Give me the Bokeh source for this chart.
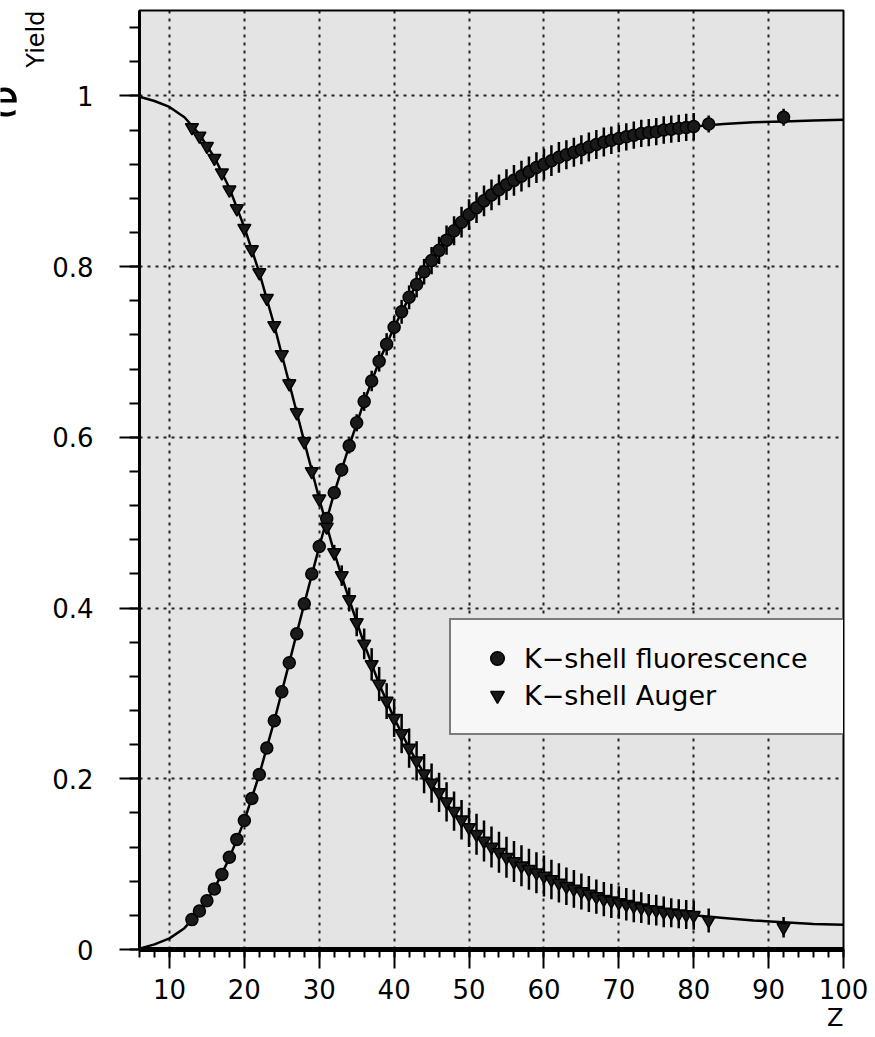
import math
from bokeh.plotting import figure
from bokeh.layouts import row
from bokeh.models import (ColumnDataSource, Range1d, SingleIntervalTicker,
                          CustomJSTickFormatter, Legend, LegendItem, Label, Title)
from bokeh.embed import file_html
from bokeh.resources import INLINE

# ---------------- data ----------------
Z = [13, 14, 15, 16, 17, 18, 19, 20, 21, 22,
     23, 24, 25, 26, 27, 28, 29, 30, 31, 32,
     33, 34, 35, 36, 37, 38, 39, 40,
     41, 42, 43, 44, 45, 46, 47, 48, 49, 50,
     51, 52, 53, 54, 55, 56, 57, 58, 59, 60,
     61, 62, 63, 64, 65, 66, 67, 68, 69, 70,
     71, 72, 73, 74, 75, 76, 77, 78, 79, 80,
     82, 92]

fluorescence = [0.035, 0.045, 0.057, 0.071, 0.088, 0.108, 0.129, 0.151, 0.177, 0.205,
                0.236, 0.268, 0.302, 0.336, 0.370, 0.405, 0.440, 0.472, 0.505, 0.535,
                0.562, 0.590, 0.617, 0.642, 0.666, 0.689, 0.709, 0.729,
                0.747, 0.764, 0.779, 0.794, 0.807, 0.819, 0.831, 0.842, 0.852, 0.861,
                0.869, 0.877, 0.884, 0.890, 0.896, 0.901, 0.906, 0.911, 0.916, 0.920,
                0.924, 0.928, 0.931, 0.934, 0.937, 0.940, 0.943, 0.946, 0.948, 0.950,
                0.952, 0.954, 0.956, 0.957, 0.958, 0.960, 0.961, 0.962, 0.963, 0.964,
                0.967, 0.975]

fluorescence_err = [0.004, 0.004, 0.004, 0.004, 0.004, 0.004, 0.004, 0.004, 0.004, 0.004,
                    0.005, 0.005, 0.005, 0.005, 0.005, 0.005, 0.005, 0.005, 0.005, 0.005,
                    0.008, 0.009, 0.010, 0.011, 0.012, 0.012, 0.013, 0.013,
                    0.014, 0.014, 0.015, 0.015, 0.016, 0.016, 0.017, 0.017, 0.018, 0.018,
                    0.018, 0.018, 0.018, 0.018, 0.018, 0.018, 0.018, 0.018, 0.018, 0.018,
                    0.018, 0.018, 0.017, 0.017, 0.017, 0.017, 0.017, 0.017, 0.016, 0.016,
                    0.016, 0.016, 0.016, 0.016, 0.016, 0.016, 0.016, 0.016, 0.016, 0.016,
                    0.010, 0.010]

auger = [0.963, 0.953, 0.941, 0.927, 0.910, 0.890, 0.868, 0.845, 0.820, 0.793,
         0.763, 0.731, 0.697, 0.663, 0.629, 0.595, 0.560, 0.528, 0.495, 0.465,
         0.438, 0.410, 0.383, 0.358, 0.334, 0.311, 0.291, 0.271,
         0.253, 0.236, 0.221, 0.206, 0.195, 0.184, 0.173, 0.162, 0.152, 0.143,
         0.135, 0.127, 0.120, 0.114, 0.108, 0.103, 0.098, 0.094, 0.090, 0.086,
         0.082, 0.078, 0.074, 0.071, 0.068, 0.065, 0.062, 0.059, 0.057, 0.055,
         0.053, 0.051, 0.049, 0.047, 0.046, 0.044, 0.043, 0.042, 0.041, 0.040,
         0.034, 0.026]

auger_err = [0.004, 0.004, 0.004, 0.004, 0.004, 0.004, 0.004, 0.004, 0.004, 0.004,
             0.005, 0.005, 0.005, 0.006, 0.006, 0.006, 0.007, 0.007, 0.008, 0.009,
             0.012, 0.014, 0.016, 0.018, 0.019, 0.020, 0.021, 0.022,
             0.023, 0.023, 0.023, 0.023, 0.023, 0.023, 0.023, 0.023, 0.023, 0.023,
             0.024, 0.024, 0.024, 0.024, 0.024, 0.024, 0.024, 0.024, 0.024, 0.024,
             0.023, 0.023, 0.022, 0.022, 0.021, 0.021, 0.020, 0.020, 0.020, 0.019,
             0.019, 0.019, 0.018, 0.018, 0.018, 0.018, 0.017, 0.017, 0.017, 0.017,
             0.014, 0.012]

curve_Z = [6, 8, 10, 12, 14, 16, 18, 20, 22, 24, 26, 28, 30, 32, 34, 36, 38, 40,
           42, 44, 46, 48, 50, 52, 54, 56, 58, 60, 62, 64, 66, 68, 70, 72, 74, 76,
           78, 80, 84, 88, 92, 96, 100]
curve_fluorescence = [0.001, 0.006, 0.013, 0.025, 0.045, 0.071, 0.107, 0.151, 0.205, 0.268,
                      0.336, 0.405, 0.472, 0.535, 0.590, 0.642, 0.689, 0.729, 0.764, 0.794,
                      0.820, 0.842, 0.861, 0.877, 0.891, 0.902, 0.912, 0.921, 0.928, 0.935,
                      0.941, 0.946, 0.950, 0.954, 0.957, 0.960, 0.962, 0.964, 0.967, 0.969,
                      0.970, 0.971, 0.972]
curve_auger = [0.999, 0.994, 0.987, 0.975, 0.955, 0.928, 0.892, 0.846, 0.793, 0.731,
               0.663, 0.595, 0.528, 0.465, 0.410, 0.358, 0.311, 0.271, 0.236, 0.206,
               0.182, 0.160, 0.141, 0.125, 0.112, 0.101, 0.092, 0.084, 0.076, 0.069,
               0.063, 0.058, 0.054, 0.050, 0.047, 0.044, 0.042, 0.040, 0.037, 0.034,
               0.032, 0.030, 0.029]

legend_labels = ["K\u2212shell fluorescence", "K\u2212shell Auger"]

# ---------------- sources ----------------
pts = ColumnDataSource(dict(
    z=Z,
    f=fluorescence,
    f_lo=[v - e for v, e in zip(fluorescence, fluorescence_err)],
    f_hi=[v + e for v, e in zip(fluorescence, fluorescence_err)],
    a=auger,
    a_lo=[v - e for v, e in zip(auger, auger_err)],
    a_hi=[v + e for v, e in zip(auger, auger_err)],
))
crv = ColumnDataSource(dict(z=curve_Z, f=curve_fluorescence, a=curve_auger))

FONT = "DejaVu Sans"

# narrow strip at the far left holding the cropped page letter
edge = figure(width=18, height=1037, x_range=Range1d(0, 1), y_range=Range1d(0, 1),
              output_backend="svg", toolbar_location=None,
              x_axis_location=None, y_axis_location=None, min_border=0,
              outline_line_color=None, background_fill_color="white",
              border_fill_color="white")
edge.grid.visible = False
edge.add_layout(Label(x=-13, y=853, x_units="screen", y_units="screen", text="e",
                      text_font=FONT, text_font_size="52px", text_align="left",
                      text_baseline="alphabetic", text_color="black"))

p = figure(width=857, height=1037, x_range=Range1d(6, 100), y_range=Range1d(0, 1.1),
           output_backend="svg", toolbar_location=None,
           min_border_left=121, min_border_right=32, min_border_top=10,
           min_border_bottom=88, background_fill_color="#e4e4e4",
           border_fill_color="white")

p.outline_line_color = "black"
p.outline_line_width = 2

p.xaxis.ticker = SingleIntervalTicker(interval=10, num_minor_ticks=5)
p.yaxis.ticker = SingleIntervalTicker(interval=0.2, num_minor_ticks=5)
p.yaxis.formatter = CustomJSTickFormatter(
    code="return (Math.abs(tick) < 1e-9 || Math.abs(tick - 1) < 1e-9) ? tick.toFixed(0) : tick.toFixed(1);")

for ax in (p.xaxis[0], p.yaxis[0]):
    ax.axis_line_color = "black"
    ax.major_tick_line_color = "black"
    ax.minor_tick_line_color = "black"
    ax.major_tick_line_width = 2
    ax.minor_tick_line_width = 2
    ax.major_tick_in = 0
    ax.minor_tick_in = 0
    ax.major_label_text_font = FONT
    ax.major_label_text_font_size = "26px"
    ax.major_label_text_color = "black"

p.xaxis.axis_line_width = 5
p.xaxis.major_tick_out = 19
p.xaxis.minor_tick_out = 8
p.xaxis.major_label_standoff = 10
p.yaxis.axis_line_width = 3
p.yaxis.major_tick_out = 20
p.yaxis.minor_tick_out = 10
p.yaxis.major_label_standoff = 26

for g in (p.xgrid[0], p.ygrid[0]):
    g.grid_line_color = "black"
    g.grid_line_dash = "3 5"
    g.grid_line_width = 2
    g.grid_line_alpha = 0.85

# curves
p.line("z", "f", source=crv, line_color="black", line_width=2.5)
p.line("z", "a", source=crv, line_color="black", line_width=2.5)

# error bars
p.segment(x0="z", y0="f_lo", x1="z", y1="f_hi", source=pts, line_color="black", line_width=2.5)
p.segment(x0="z", y0="a_lo", x1="z", y1="a_hi", source=pts, line_color="black", line_width=2.5)

# markers
rf = p.scatter("z", "f", source=pts, marker="circle", size=12,
               fill_color="#1a1a1a", line_color="black", line_width=1.5)
ra = p.scatter("z", "a", source=pts, marker="inverted_triangle", size=13,
               fill_color="#1a1a1a", line_color="black", line_width=1.5)

legend = Legend(items=[LegendItem(label=legend_labels[0], renderers=[rf]),
                       LegendItem(label=legend_labels[1], renderers=[ra])],
                location=(310, 214), padding=21, spacing=3, glyph_width=50,
                glyph_height=34, label_standoff=2, label_width=300, margin=0,
                label_text_font=FONT, label_text_font_size="27px",
                label_text_color="black",
                border_line_color="black", border_line_width=2,
                background_fill_color="#f7f7f7", background_fill_alpha=1.0)
p.add_layout(legend)

p.add_layout(Title(text="Yield", align="right", text_font=FONT, text_font_size="24px",
                   text_font_style="normal", text_color="black", standoff=0), "left")
p.add_layout(Title(text="Z", align="right", text_font=FONT, text_font_size="24px",
                   text_font_style="normal", text_color="black", standoff=0), "below")

layout = row(edge, p, spacing=0)
open("out.html", "w").write(file_html(layout, INLINE))
